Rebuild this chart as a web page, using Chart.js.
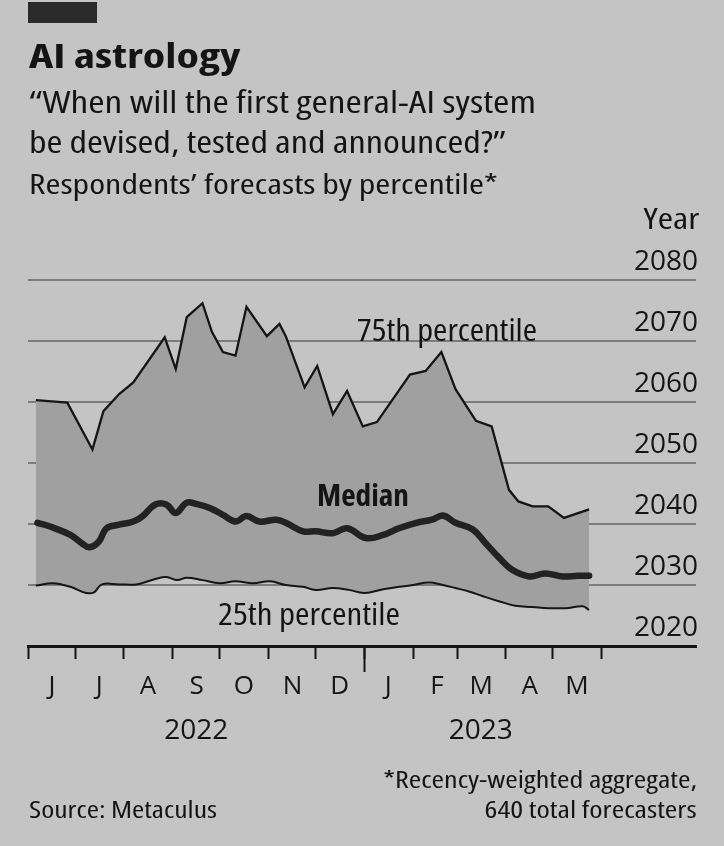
<!DOCTYPE html>
<html><head><meta charset="utf-8">
<script src="https://cdn.jsdelivr.net/npm/chart.js@4.4.1/dist/chart.umd.min.js"></script>
<style>
html,body{margin:0;padding:0;}
body{width:724px;height:846px;background:#c4c4c4;position:relative;overflow:hidden;font-family:"Open Sans",sans-serif;color:#141414;}
canvas{position:absolute;left:0;top:0;}
.t{position:absolute;white-space:nowrap;line-height:1;font-stretch:87.5%;}
#bar{position:absolute;left:28px;top:2px;width:69px;height:21px;background:#2a2a2a;}
</style></head><body>
<div id="bar"></div>
<canvas id="c" width="724" height="846"></canvas>
<script>
// ---- Data ----
// x values: days since 1 June 2022
const monthStartDays = [0, 30, 61, 92, 122, 153, 183, 214, 245, 273, 304, 334, 365];
const monthLabels = ['J', 'J', 'A', 'S', 'O', 'N', 'D', 'J', 'F', 'M', 'A', 'M', ''];
const yearLabelDays = [107, 288];
const yearLabels = ['2022', '2023'];
const yearTicks = [2020, 2030, 2040, 2050, 2060, 2070, 2080];

const p75Days = [5, 25, 41, 48, 58, 67, 87, 94, 101, 111, 117, 124, 132, 139, 152, 160, 164, 176, 184, 194, 203, 213, 222, 243, 253, 263, 272, 285, 295, 306, 312, 321, 331, 341, 357];
const p75Values = [2060.3, 2059.9, 2052.2, 2058.5, 2061.3, 2063.2, 2070.6, 2065.4, 2073.9, 2076.2, 2071.5, 2068.2, 2067.6, 2075.6, 2070.8, 2072.8, 2070.8, 2062.4, 2065.9, 2058.0, 2061.8, 2056.0, 2056.7, 2064.5, 2065.1, 2068.2, 2062.1, 2056.9, 2056.0, 2045.6, 2043.7, 2042.9, 2042.9, 2041.0, 2042.4];

const medianDays = [6, 16, 27, 34, 39, 45, 50, 58, 67, 73, 81, 88, 94, 101, 107, 116, 124, 132, 139, 147, 158, 164, 175, 183, 194, 203, 215, 226, 236, 247, 257, 264, 272, 283, 291, 300, 308, 319, 329, 340, 350, 357];
const medianValues = [2040.2, 2039.4, 2038.2, 2036.9, 2036.2, 2037.1, 2039.3, 2039.9, 2040.4, 2041.3, 2043.2, 2043.2, 2041.8, 2043.5, 2043.3, 2042.6, 2041.5, 2040.4, 2041.3, 2040.4, 2040.7, 2040.2, 2038.8, 2038.8, 2038.5, 2039.3, 2037.7, 2038.2, 2039.3, 2040.2, 2040.7, 2041.4, 2040.2, 2039.1, 2036.9, 2034.4, 2032.5, 2031.4, 2031.9, 2031.4, 2031.5, 2031.5];

const p25Days = [5, 16, 27, 37, 42, 47, 58, 69, 80, 88, 95, 101, 111, 122, 132, 143, 154, 164, 175, 183, 194, 204, 214, 226, 236, 245, 255, 264, 272, 281, 289, 300, 310, 321, 331, 342, 353, 357];
const p25Values = [2029.9, 2030.3, 2029.7, 2028.7, 2028.8, 2030.1, 2030.1, 2030.1, 2030.9, 2031.3, 2030.8, 2031.2, 2030.8, 2030.3, 2030.6, 2030.3, 2030.6, 2030.0, 2029.7, 2029.2, 2029.5, 2029.2, 2028.7, 2029.3, 2029.7, 2030.0, 2030.4, 2030.0, 2029.5, 2028.9, 2028.2, 2027.3, 2026.6, 2026.4, 2026.2, 2026.2, 2026.5, 2025.9];

const toXY = (days, vals) => days.map((d, i) => ({x: d, y: vals[i]}));

const FONT = '"Open Sans", sans-serif';
const INK = '#151515';
const BAND = '#a0a0a0';

const chart = new Chart(document.getElementById('c'), {
  type: 'line',
  data: {
    datasets: [
      {label: '75th percentile', data: toXY(p75Days, p75Values), borderColor: INK, borderWidth: 2.3,
       pointRadius: 0, tension: 0, fill: {target: 2, above: BAND, below: BAND}},
      {label: 'Median', data: toXY(medianDays, medianValues), borderColor: '#222', borderWidth: 6.5,
       pointRadius: 0, tension: 0.4, borderCapStyle: 'round', fill: false},
      {label: '25th percentile', data: toXY(p25Days, p25Values), borderColor: INK, borderWidth: 2,
       pointRadius: 0, tension: 0.4, fill: false}
    ]
  },
  options: {
    responsive: false,
    animation: false,
    events: [],
    layout: {padding: {left: 28, right: 24, top: 280, bottom: 90}},
    plugins: {legend: {display: false}, tooltip: {enabled: false}, filler: {drawTime: 'beforeDatasetsDraw'}},
    scales: {
      x: {
        type: 'linear', position: 'bottom', min: 0, max: 425, weight: 0,
        afterBuildTicks: s => { s.ticks = monthStartDays.map(v => ({value: v})); },
        afterFit: s => { s.height = 60; },
        grid: {drawOnChartArea: false, drawTicks: true, tickLength: 13, tickWidth: 2, tickColor: INK},
        border: {display: true, color: INK, width: 3},
        ticks: {
          autoSkip: false, maxRotation: 0, minRotation: 0, labelOffset: 24, padding: 12,
          color: INK, font: {family: FONT, size: 26, lineHeight: 1.2},
          callback: (v) => monthLabels[monthStartDays.indexOf(v)]
        }
      },
      xYear: {
        type: 'linear', position: 'bottom', min: 0, max: 425, axis: 'x', weight: 1,
        afterBuildTicks: s => { s.ticks = yearLabelDays.map(v => ({value: v})); },
        afterFit: s => { s.height = 50; },
        grid: {display: false},
        border: {display: false},
        ticks: {
          autoSkip: false, maxRotation: 0, minRotation: 0, padding: 0,
          color: INK, font: {family: FONT, size: 28, lineHeight: 1.2},
          callback: (v) => yearLabels[yearLabelDays.indexOf(v)]
        }
      },
      xJan: {
        type: 'linear', position: {y: 2020}, min: 0, max: 425, axis: 'x',
        afterBuildTicks: s => { s.ticks = [{value: monthStartDays[7]}]; },
        grid: {drawOnChartArea: false, drawTicks: true, tickLength: 26, tickWidth: 2, tickColor: INK},
        border: {display: false},
        ticks: {display: false}
      },
      y: {
        type: 'linear', position: 'right', min: 2020, max: 2080,
        afterBuildTicks: s => { s.ticks = yearTicks.map(v => ({value: v})); },
        grid: {drawTicks: false, lineWidth: 2,
               color: c => (c.tick && c.tick.value === 2020) ? 'rgba(0,0,0,0)' : '#7c7c7c'},
        border: {display: false},
        ticks: {mirror: true, padding: 2, labelOffset: -18, color: INK,
                font: {family: FONT, size: 28},
                callback: v => String(v)}
      }
    }
  }
});

// ---- Text (real DOM text) ----
const texts = [
  {t: 'AI astrology', bold: true, fs: 33, left: 28.6, base: 68.5, w: 211.5},
  {t: '\u201CWhen will the first general-AI system', fs: 30, left: 28.6, base: 113.3, w: 507},
  {t: 'be devised, tested and announced?\u201D', fs: 30, left: 28.6, base: 154, w: 477},
  {t: 'Respondents\u2019 forecasts by percentile*', fs: 28, left: 28.6, base: 194.3, w: 469},
  {t: 'Year', fs: 29.5, right: 699, base: 229.5, w: 56},
  {t: '75th percentile', fs: 30, left: 357, base: 341.5, w: 180},
  {t: 'Median', bold: true, fs: 30, left: 316.7, base: 506.5, w: 92},
  {t: '25th percentile', fs: 30, left: 217.5, base: 626, w: 182},
  {t: '*Recency-weighted aggregate,', fs: 23.5, right: 697, base: 789, w: 314},
  {t: '640 total forecasters', fs: 23.5, right: 697, base: 819, w: 212},
  {t: 'Source: Metaculus', fs: 23.5, left: 28.6, base: 819, w: 188}
];
const els = texts.map(o => {
  const d = document.createElement('div');
  d.className = 't';
  d.textContent = o.t;
  d.style.fontSize = o.fs + 'px';
  d.style.fontWeight = o.bold ? '700' : '400';
  d.style.top = (o.base - 0.888 * o.fs) + 'px';
  if (o.right !== undefined) { d.style.right = (724 - o.right) + 'px'; d.style.transformOrigin = 'right top'; }
  else { d.style.left = o.left + 'px'; d.style.transformOrigin = 'left top'; }
  document.body.appendChild(d);
  return d;
});
els.forEach((d, i) => {
  const w = d.getBoundingClientRect().width;
  if (w > 0) d.style.transform = 'scaleX(' + (texts[i].w / w).toFixed(4) + ')';
});
</script>
</body></html>
